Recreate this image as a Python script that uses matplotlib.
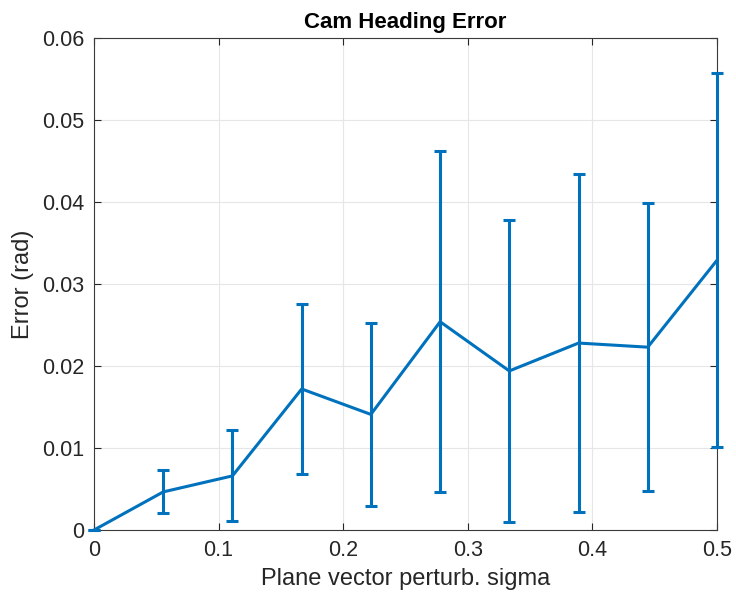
import numpy as np
import matplotlib
matplotlib.use("Agg")
import matplotlib.pyplot as plt

plt.rcParams['font.family'] = ['Liberation Sans', 'DejaVu Sans']

sigma = [0.0, 0.0556, 0.1111, 0.1667, 0.2222, 0.2778, 0.3333, 0.3889, 0.4444, 0.5]
err_mean = [0.0, 0.00465, 0.0066, 0.0172, 0.0141, 0.0254, 0.0194, 0.0228, 0.0223, 0.0329]
err_std = [0.0, 0.00262, 0.00555, 0.0104, 0.0112, 0.0208, 0.0184, 0.0206, 0.0176, 0.0228]

fig = plt.figure(figsize=(7.36, 5.97), dpi=100)
ax = fig.add_axes([0.1277, 0.1122, 0.8465, 0.8241])

color = '#0072BD'
cont = ax.errorbar(sigma, err_mean, yerr=err_std, color=color, lw=2.2, elinewidth=2.2,
                   capsize=4, capthick=2.2, zorder=3)
for artist in [cont.lines[0], *cont.lines[1], *cont.lines[2]]:
    artist.set_clip_on(False)

ax.set_xlim(0, 0.5)
ax.set_ylim(0, 0.06)
ax.set_xticks([0, 0.1, 0.2, 0.3, 0.4, 0.5])
ax.set_xticklabels(['0', '0.1', '0.2', '0.3', '0.4', '0.5'])
ax.set_yticks([0, 0.01, 0.02, 0.03, 0.04, 0.05, 0.06])
ax.set_yticklabels(['0', '0.01', '0.02', '0.03', '0.04', '0.05', '0.06'])
ax.grid(True, color='#e6e6e6', lw=0.8, zorder=0)
ax.set_axisbelow(True)
ax.tick_params(direction='in', length=5, width=0.8, colors='#262626', labelsize=15.5,
               top=True, right=True, pad=7)
for s in ax.spines.values():
    s.set_color('#3a3a3a')
    s.set_linewidth(0.8)

ax.set_xlabel('Plane vector perturb. sigma', fontsize=17, color='#262626', labelpad=5)
ax.set_ylabel('Error (rad)', fontsize=17, color='#262626', labelpad=6)
ax.set_title('Cam Heading Error', fontsize=16, fontweight='bold', color='black', pad=7)

fig.savefig('out.png', dpi=100)
